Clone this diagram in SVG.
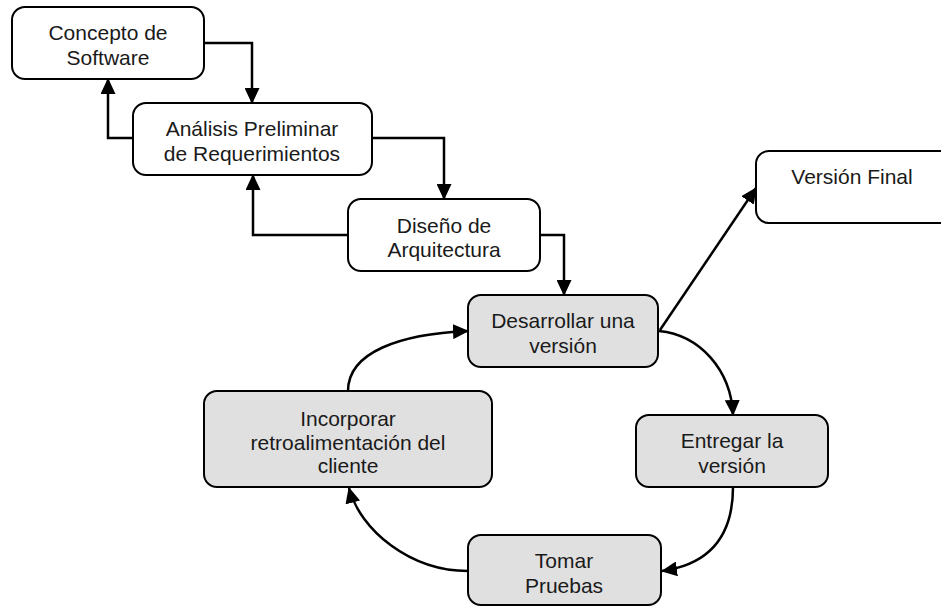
<svg xmlns="http://www.w3.org/2000/svg" width="941" height="607" viewBox="0 0 941 607">
  <style>
    .box { stroke: #000; stroke-width: 2; }
    .white { fill: #fff; }
    .grey { fill: #e0e0e0; }
    .label { font-family: "Liberation Sans", Arial, sans-serif; font-size: 21px; fill: #1a1a1a; text-anchor: middle; }
    .link { fill: none; stroke: #000; stroke-width: 2.5; }
  </style>
  <defs>
    <marker id="arrow" markerUnits="userSpaceOnUse" markerWidth="16" markerHeight="15" viewBox="0 0 16 15" refX="15" refY="7.5" orient="auto">
      <path d="M0,0 L16,7.5 L0,15 Z" fill="#000"/>
    </marker>
  </defs>
  <rect width="941" height="607" fill="#fff"/>

  <g id="connectors">
    <path class="link" d="M204,43 H252 V103" marker-end="url(#arrow)"/>
    <path class="link" d="M133,138 H108 V79" marker-end="url(#arrow)"/>
    <path class="link" d="M372,138 H444 V199" marker-end="url(#arrow)"/>
    <path class="link" d="M348,235 H253 V175" marker-end="url(#arrow)"/>
    <path class="link" d="M540,235 H564 V295" marker-end="url(#arrow)"/>
    <path class="link" d="M660,330 L756,188" marker-end="url(#arrow)"/>
    <path class="link" d="M659,331 C700,335 731,370 733,415" marker-end="url(#arrow)"/>
    <path class="link" d="M733,487 C733,540 705,565 662,571" marker-end="url(#arrow)"/>
    <path class="link" d="M468,571 C410,571 360,530 349,488" marker-end="url(#arrow)"/>
    <path class="link" d="M348,391 C348,352 400,334 468,331" marker-end="url(#arrow)"/>
  </g>

  <g id="concepto">
    <rect class="box white" x="12" y="7" width="192" height="72" rx="13"/>
    <text class="label" x="108" y="40">Concepto de</text>
    <text class="label" x="108" y="65">Software</text>
  </g>

  <g id="analisis">
    <rect class="box white" x="133" y="103" width="239" height="72" rx="13"/>
    <text class="label" x="252" y="136">Análisis Preliminar</text>
    <text class="label" x="252" y="161">de Requerimientos</text>
  </g>

  <g id="diseno">
    <rect class="box white" x="348" y="199" width="192" height="72" rx="13"/>
    <text class="label" x="444" y="233">Diseño de</text>
    <text class="label" x="444" y="257">Arquitectura</text>
  </g>

  <g id="version-final">
    <rect class="box white" x="756" y="151" width="200" height="72" rx="13"/>
    <text class="label" x="852" y="184">Versión Final</text>
  </g>

  <g id="desarrollar">
    <rect class="box grey" x="468" y="295" width="190" height="72" rx="13"/>
    <text class="label" x="563" y="328">Desarrollar una</text>
    <text class="label" x="563" y="353">versión</text>
  </g>

  <g id="entregar">
    <rect class="box grey" x="636" y="415" width="192" height="72" rx="13"/>
    <text class="label" x="732" y="448">Entregar la</text>
    <text class="label" x="732" y="473">versión</text>
  </g>

  <g id="tomar">
    <rect class="box grey" x="468" y="535" width="193" height="70" rx="13"/>
    <text class="label" x="564" y="568">Tomar</text>
    <text class="label" x="564" y="593">Pruebas</text>
  </g>

  <g id="incorporar">
    <rect class="box grey" x="204" y="391" width="288" height="96" rx="13"/>
    <text class="label" x="348" y="426">Incorporar</text>
    <text class="label" x="348" y="450">retroalimentación del</text>
    <text class="label" x="348" y="473">cliente</text>
  </g>
</svg>
